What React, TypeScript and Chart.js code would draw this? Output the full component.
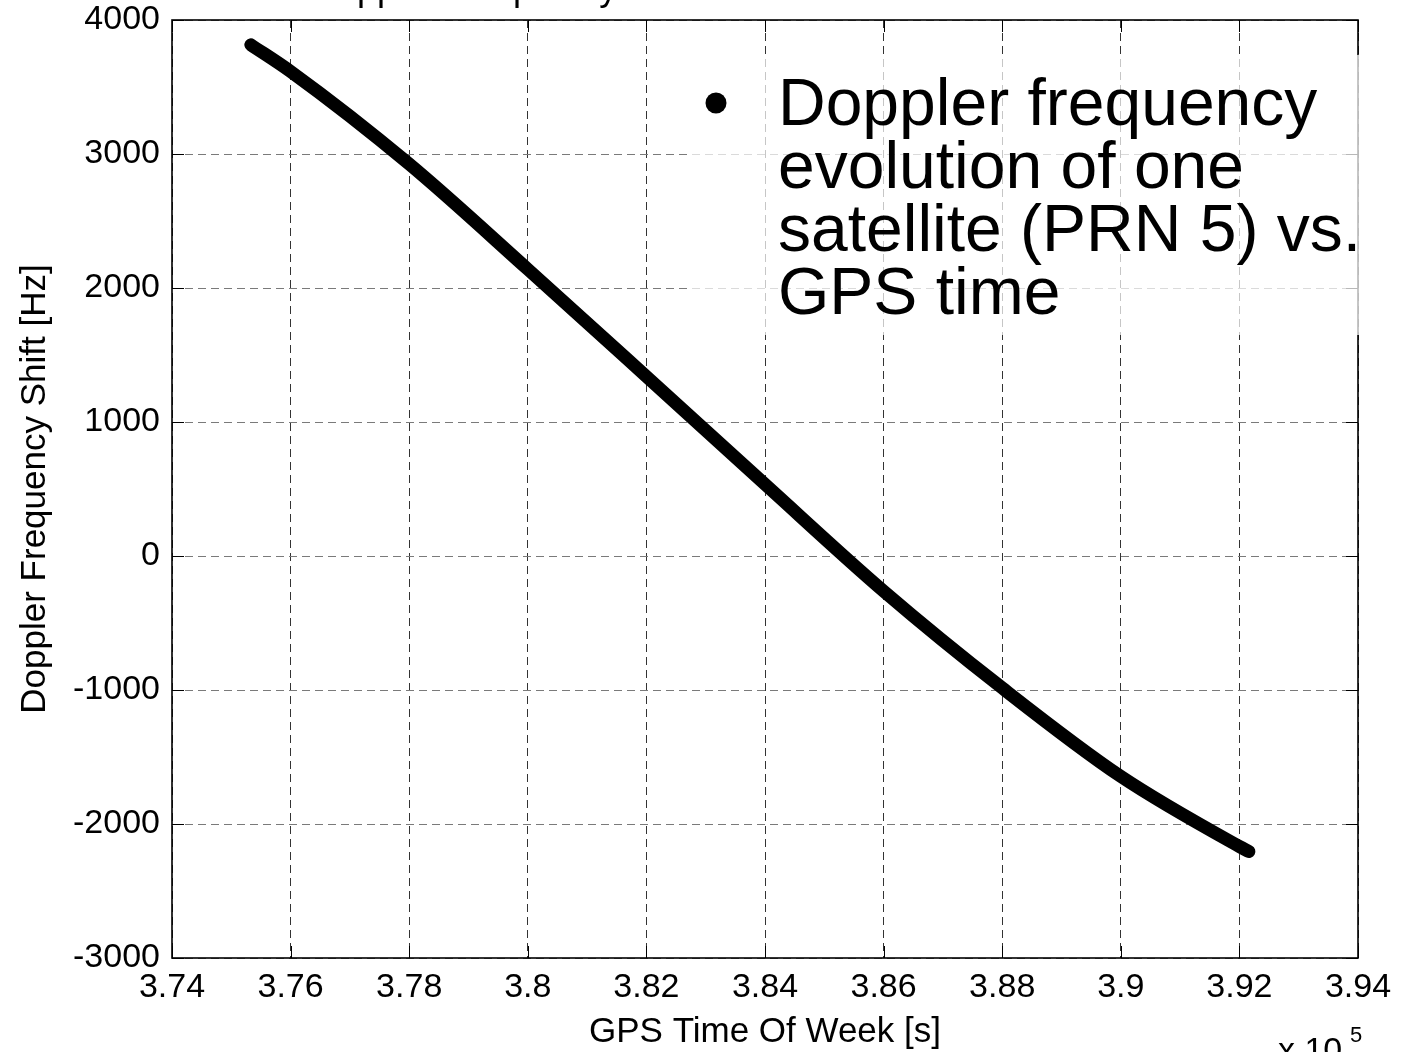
import React, { useEffect, useRef } from "react";
import { Chart, registerables } from "chart.js";

Chart.register(...registerables);

// ---- data ----
const timeOfWeek = [375330, 376000, 378000, 380000, 382000, 384000, 386000, 388000, 390000, 392000, 392160];
const dopplerHz = [3815, 3616, 2925, 2140, 1340, 535, -262, -985, -1645, -2168, -2205];

const xMin = 374000;
const xMax = 394000;
const xStep = 2000;
const yMin = -3000;
const yMax = 4000;
const yStep = 1000;

const titleText = "Doppler Frequency Shift";
const xLabel = "GPS Time Of Week [s]";
const yLabel = "Doppler Frequency Shift [Hz]";
const noteLines = ["Doppler frequency", "evolution of one", "satellite (PRN 5) vs.", "GPS time"];
const exponentBase = "x 10";
const exponentPower = "5";

const FONT = "'Liberation Sans', Arial, Helvetica, sans-serif";

const decorPlugin = {
  id: "decor",
  afterDatasetsDraw(chart: any) {
    const ctx = chart.ctx;
    const a = chart.chartArea;
    const xs = chart.scales.x;
    const ys = chart.scales.y;
    ctx.save();
    // inward ticks
    ctx.strokeStyle = "#000";
    ctx.lineWidth = 1;
    const tl = 12;
    for (let v = xMin; v <= xMax; v += xStep) {
      const px = Math.round(xs.getPixelForValue(v)) + 0.5;
      ctx.beginPath();
      ctx.moveTo(px, a.bottom);
      ctx.lineTo(px, a.bottom - tl);
      ctx.moveTo(px, a.top);
      ctx.lineTo(px, a.top + tl);
      ctx.stroke();
    }
    for (let v = yMin; v <= yMax; v += yStep) {
      const py = Math.round(ys.getPixelForValue(v)) + 0.5;
      ctx.beginPath();
      ctx.moveTo(a.left, py);
      ctx.lineTo(a.left + tl, py);
      ctx.moveTo(a.right, py);
      ctx.lineTo(a.right - tl, py);
      ctx.stroke();
    }
    // frame
    ctx.lineWidth = 1.6;
    ctx.strokeRect(a.left, a.top, a.right - a.left, a.bottom - a.top);

    // annotation box
    ctx.fillStyle = "rgba(255,255,255,0.72)";
    ctx.fillRect(688, 55, 676, 280);
    ctx.fillStyle = "#000";
    ctx.beginPath();
    ctx.arc(716, 103, 10.5, 0, Math.PI * 2);
    ctx.fill();
    ctx.font = `66px ${FONT}`;
    ctx.textAlign = "left";
    ctx.textBaseline = "alphabetic";
    noteLines.forEach((line, i) => {
      ctx.fillText(line, 778, 125 + i * 63);
    });
    ctx.restore();
  },
  afterDraw(chart: any) {
    const ctx = chart.ctx;
    ctx.save();
    ctx.fillStyle = "#000";
    ctx.textAlign = "left";
    ctx.textBaseline = "alphabetic";
    ctx.font = `36px ${FONT}`;
    ctx.fillText(titleText, 311, 0);
    ctx.font = `34px ${FONT}`;
    ctx.fillText(exponentBase, 1278, 1061);
    ctx.font = `22px ${FONT}`;
    ctx.fillText(exponentPower, 1350, 1042);
    ctx.restore();
  },
};

export default function App() {
  const ref = useRef<HTMLCanvasElement | null>(null);

  useEffect(() => {
    document.body.style.margin = "0";
    const canvas = ref.current;
    if (!canvas) return;
    const points = timeOfWeek.map((t, i) => ({ x: t, y: dopplerHz[i] }));
    const chart = new Chart(canvas, {
      type: "scatter",
      data: {
        datasets: [
          {
            data: points,
            showLine: true,
            borderColor: "#000",
            backgroundColor: "#000",
            borderWidth: 13,
            borderCapStyle: "round",
            borderJoinStyle: "round",
            pointRadius: 0,
            cubicInterpolationMode: "monotone",
          } as any,
        ],
      },
      options: {
        responsive: false,
        animation: false,
        devicePixelRatio: 1,
        layout: { padding: { top: 20, right: 58, left: 0, bottom: 0 } },
        plugins: { legend: { display: false }, tooltip: { enabled: false }, title: { display: false } },
        scales: {
          x: {
            type: "linear",
            min: xMin,
            max: xMax,
            afterFit: (s: any) => {
              s.height = 94;
              s.paddingLeft = 0;
              s.paddingRight = 0;
            },
            afterBuildTicks: (s: any) => {
              const t = [];
              for (let v = xMin; v <= xMax; v += xStep) t.push({ value: v });
              s.ticks = t;
            },
            ticks: {
              autoSkip: false,
              maxRotation: 0,
              padding: 9,
              color: "#000",
              font: { family: FONT, size: 34 },
              callback: (v: any) => String(parseFloat((Number(v) / 1e5).toFixed(2))),
            },
            grid: { color: "#333", lineWidth: 1, drawTicks: false },
            border: { display: false, dash: [8, 5] },
            title: {
              display: true,
              text: xLabel,
              color: "#000",
              font: { family: FONT, size: 35, lineHeight: 1 },
              padding: { top: 0, bottom: 2 },
            },
          },
          y: {
            type: "linear",
            min: yMin,
            max: yMax,
            afterFit: (s: any) => {
              s.width = 172;
              s.paddingTop = 0;
              s.paddingBottom = 0;
            },
            afterBuildTicks: (s: any) => {
              const t = [];
              for (let v = yMin; v <= yMax; v += yStep) t.push({ value: v });
              s.ticks = t;
            },
            ticks: {
              autoSkip: false,
              padding: 12,
              color: "#000",
              font: { family: FONT, size: 34 },
              callback: (v: any) => String(v),
            },
            grid: { color: "#7a7a7a", lineWidth: 1, drawTicks: false },
            border: { display: false, dash: [8, 5] },
            title: {
              display: true,
              text: yLabel,
              color: "#000",
              font: { family: FONT, size: 35, lineHeight: 1 },
              padding: { top: 18, bottom: 0 },
            },
          },
        },
      },
      plugins: [decorPlugin],
    });
    return () => chart.destroy();
  }, []);

  return <canvas ref={ref} width={1416} height={1052} style={{ display: "block", width: 1416, height: 1052 }} />;
}
